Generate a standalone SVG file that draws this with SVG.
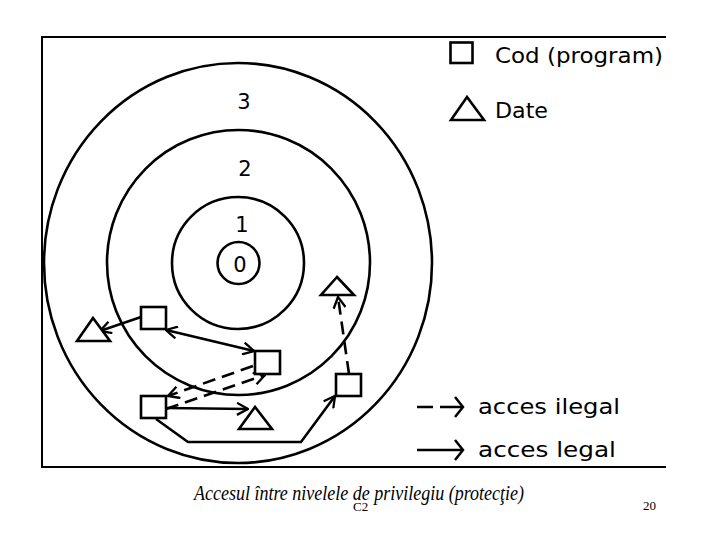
<svg xmlns="http://www.w3.org/2000/svg" width="720" height="540" viewBox="0 0 720 540">
<defs>
<style>
.ring{fill:none;stroke:#000;stroke-width:2.6}
.frame{fill:none;stroke:#000;stroke-width:2}
.shape{fill:#fff;stroke:#000;stroke-width:2.6}
.lbl{font-family:"DejaVu Sans","Liberation Sans",sans-serif;font-size:21px;fill:#000}
.num{font-family:"DejaVu Sans","Liberation Sans",sans-serif;font-size:21px;fill:#000;text-anchor:middle}
.solid{fill:none;stroke:#000;stroke-width:2.6;marker-end:url(#ah)}
.dash{fill:none;stroke:#000;stroke-width:2.6;stroke-dasharray:13 7;marker-end:url(#ah)}
.cap{font-family:"Liberation Serif","Times New Roman",serif;fill:#000}
</style>
<marker id="ah" markerUnits="userSpaceOnUse" viewBox="0 0 14 14" refX="13" refY="7" markerWidth="14" markerHeight="14" orient="auto-start-reverse">
<path d="M2,1 L13,7 L2,13" fill="none" stroke="#000" stroke-width="2.3"/>
</marker>
</defs>
<rect width="720" height="540" fill="#fff"/>
<g id="frame">
<path class="frame" d="M666,37 H42 V467 H666"/>
</g>
<g id="rings">
<ellipse id="ring3" class="ring" cx="238" cy="263" rx="194" ry="200"/>
<ellipse id="ring2" class="ring" cx="238.5" cy="262.5" rx="131.5" ry="132.5"/>
<circle id="ring1" class="ring" cx="238" cy="263" r="66"/>
<circle id="ring0" class="ring" cx="238.5" cy="263" r="21"/>
<text class="num" x="244" y="109">3</text>
<text class="num" x="245" y="176">2</text>
<text class="num" x="242" y="232">1</text>
<text class="num" x="240" y="272">0</text>
</g>
<g id="legend">
<rect class="shape" x="450.5" y="42.5" width="22" height="20.5"/>
<text class="lbl" x="495" y="63" textLength="168" lengthAdjust="spacingAndGlyphs">Cod (program)</text>
<polygon class="shape" points="467,97 451,120 484,120"/>
<text class="lbl" x="495" y="118" textLength="53" lengthAdjust="spacingAndGlyphs">Date</text>
<path d="M417,407 H433" stroke="#000" stroke-width="2.5" fill="none"/>
<path d="M440,407 H462" stroke="#000" stroke-width="2.5" fill="none"/>
<path d="M455,397 L463,407 L455,417" stroke="#000" stroke-width="2.5" fill="none"/>
<text class="lbl" x="478" y="414" textLength="142" lengthAdjust="spacingAndGlyphs">acces  ilegal</text>
<path d="M417,450 H462" stroke="#000" stroke-width="2.5" fill="none"/>
<path d="M455,440 L463,450 L455,460" stroke="#000" stroke-width="2.5" fill="none"/>
<text class="lbl" x="478" y="457" textLength="138" lengthAdjust="spacingAndGlyphs">acces  legal</text>
</g>
<g id="connectors">
<line class="solid" x1="141" y1="317" x2="100" y2="331"/>
<line class="solid" x1="166" y1="330" x2="254" y2="351" style="marker-start:url(#ah)"/>
<line class="dash" x1="253" y1="366" x2="168" y2="396"/>
<line class="dash" x1="166" y1="409" x2="265" y2="375"/>
<line class="solid" x1="166" y1="408" x2="248" y2="409"/>
<polyline class="solid" points="156,419 188,442 301,442 335,396"/>
<line class="dash" x1="349" y1="374" x2="338" y2="297"/>
</g>
<g id="nodeA"><rect class="shape" x="141" y="307" width="25" height="22"/></g>
<g id="nodeT1"><polygon class="shape" points="93,318 77,341 110,341"/></g>
<g id="nodeB"><rect class="shape" x="255" y="351" width="25" height="23"/></g>
<g id="nodeC"><rect class="shape" x="141" y="396" width="25" height="22"/></g>
<g id="nodeT2"><polygon class="shape" points="255,407 239,429 272,429"/></g>
<g id="nodeD"><rect class="shape" x="336" y="374" width="25" height="22"/></g>
<g id="nodeT3"><polygon class="shape" points="337,277 321,295 354,295"/></g>
<g id="caption">
<text class="cap" x="194" y="500" font-size="20" font-style="italic" textLength="330" lengthAdjust="spacingAndGlyphs">Accesul între nivelele de privilegiu (protecţie)</text>
<text class="cap" x="353" y="511" font-size="13">C2</text>
<text class="cap" x="643" y="510" font-size="13">20</text>
</g>
</svg>
